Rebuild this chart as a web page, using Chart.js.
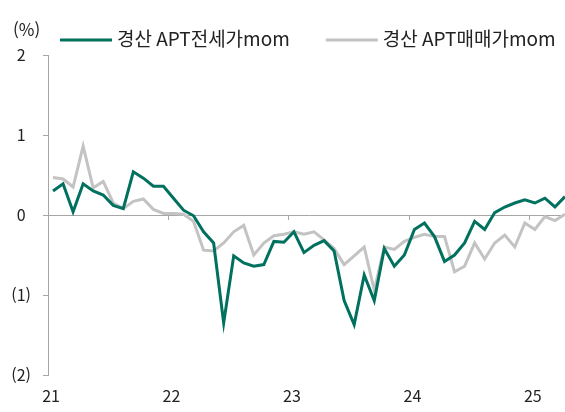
<!DOCTYPE html>
<html lang="ko">
<head>
<meta charset="utf-8">
<title>경산 APT 전세가·매매가 mom</title>
<script src="https://cdn.jsdelivr.net/npm/chart.js@4/dist/chart.umd.min.js"></script>
<style>
  html, body { margin: 0; padding: 0; background: #fff; overflow: hidden; }
  #wrap { width: 580px; height: 412px; }
</style>
</head>
<body>
<div id="wrap"><canvas id="myChart" width="580" height="412"></canvas></div>
<script>
// 2021.01 ~ 2025.04, monthly
const startYear = 2021;
const monthCount = 52;
const yearLabels = ["21", "22", "23", "24", "25"];

const jeonseLabel = "경산 APT전세가mom";
const jeonse = [
  0.30, 0.39, 0.04, 0.39, 0.30, 0.25, 0.12, 0.08, 0.54, 0.46, 0.36, 0.36,
  0.21, 0.06, -0.01, -0.21, -0.35, -1.35, -0.51, -0.60, -0.64, -0.62, -0.33, -0.34,
  -0.21, -0.47, -0.38, -0.32, -0.45, -1.07, -1.37, -0.75, -1.07, -0.42, -0.64, -0.50,
  -0.18, -0.10, -0.27, -0.58, -0.50, -0.35, -0.08, -0.18, 0.03, 0.10, 0.15, 0.19,
  0.15, 0.21, 0.10, 0.23
];

const saleLabel = "경산 APT매매가mom";
const sale = [
  0.47, 0.45, 0.35, 0.86, 0.34, 0.42, 0.15, 0.08, 0.17, 0.20, 0.07, 0.02,
  0.02, 0.01, -0.08, -0.44, -0.45, -0.35, -0.21, -0.13, -0.50, -0.35, -0.26, -0.24,
  -0.21, -0.24, -0.21, -0.31, -0.42, -0.62, -0.51, -0.40, -0.94, -0.40, -0.43, -0.33,
  -0.28, -0.24, -0.27, -0.27, -0.71, -0.64, -0.35, -0.55, -0.35, -0.25, -0.40, -0.10,
  -0.18, -0.02, -0.07, 0.01
];

const yTicks = [-2, -1, 0, 1, 2];

const months = [];
for (let i = 0; i < monthCount; i++) {
  const y = startYear + Math.floor(i / 12);
  const m = (i % 12) + 1;
  months.push(y + "." + String(m).padStart(2, "0"));
}

const GREEN = "#00705f";
const GRAY = "#c3c3c3";
const AXIS = "#a6a6a6";
const TEXT = "#222222";

Chart.defaults.font.family = '"Noto Sans CJK KR", "Noto Sans", sans-serif';
Chart.defaults.font.size = 16;
Chart.defaults.color = TEXT;

// unit label + legend row above the plot
const header = {
  id: "header",
  afterDraw(chart) {
    const ctx = chart.ctx;
    ctx.save();
    ctx.fillStyle = TEXT;
    ctx.font = '17px "Noto Sans CJK KR", sans-serif';
    ctx.textBaseline = "middle";
    ctx.textAlign = "left";
    ctx.fillText("(%)", 13, 30);

    ctx.font = '19px "Noto Sans CJK KR", sans-serif';
    let x = 60;
    const y = 40;
    chart.data.datasets.forEach(ds => {
      ctx.strokeStyle = ds.borderColor;
      ctx.lineWidth = 3;
      ctx.beginPath();
      ctx.moveTo(x, y);
      ctx.lineTo(x + 52, y);
      ctx.stroke();
      ctx.fillStyle = TEXT;
      ctx.fillText(ds.label, x + 57, y - 1);
      x += 57 + ctx.measureText(ds.label).width + 36;
    });
    ctx.restore();
  }
};

const ctx = document.getElementById("myChart");

new Chart(ctx, {
  type: "line",
  data: {
    labels: months,
    datasets: [
      {
        label: jeonseLabel,
        data: jeonse,
        borderColor: GREEN,
        borderWidth: 3,
        pointRadius: 0,
        tension: 0,
      },
      {
        label: saleLabel,
        data: sale,
        borderColor: GRAY,
        borderWidth: 3,
        pointRadius: 0,
        tension: 0,
      },
    ],
  },
  options: {
    responsive: false,
    animation: false,
    layout: { padding: { top: 55, right: 10, bottom: 0, left: 0 } },
    plugins: {
      legend: { display: false },
      tooltip: { enabled: false },
    },
    scales: {
      x: {
        type: "category",
        offset: true,
        grid: { display: false },
        border: { display: false },
        ticks: {
          autoSkip: false,
          maxRotation: 0,
          padding: 3,
          labelOffset: -2,
          callback: (v, i) => (i % 12 === 0 ? yearLabels[i / 12] : ""),
        },
        afterFit(scale) { scale.height = 37; },
      },
      // year marks hanging under the zero line
      xYear: {
        type: "category",
        position: { y: 0 },
        offset: true,
        ticks: { display: false },
        border: { display: false },
        grid: {
          offset: true,
          drawOnChartArea: false,
          drawTicks: true,
          tickLength: 5,
          tickColor: c => (c.index !== undefined && c.index % 12 === 0 ? AXIS : "transparent"),
        },
      },
      y: {
        min: -2,
        max: 2,
        afterBuildTicks(scale) { scale.ticks = yTicks.map(v => ({ value: v })); },
        border: { display: true, color: AXIS, width: 1 },
        grid: {
          color: c => (c.tick && c.tick.value === 0 ? AXIS : "transparent"),
          tickColor: AXIS,
          tickLength: 5,
          lineWidth: 1,
        },
        ticks: {
          crossAlign: "center",
          padding: 12,
          callback: v => (v < 0 ? "(" + Math.abs(v) + ")" : String(v)),
        },
        afterFit(scale) { scale.width = 48; },
      },
    },
  },
  plugins: [header],
});
</script>
</body>
</html>
